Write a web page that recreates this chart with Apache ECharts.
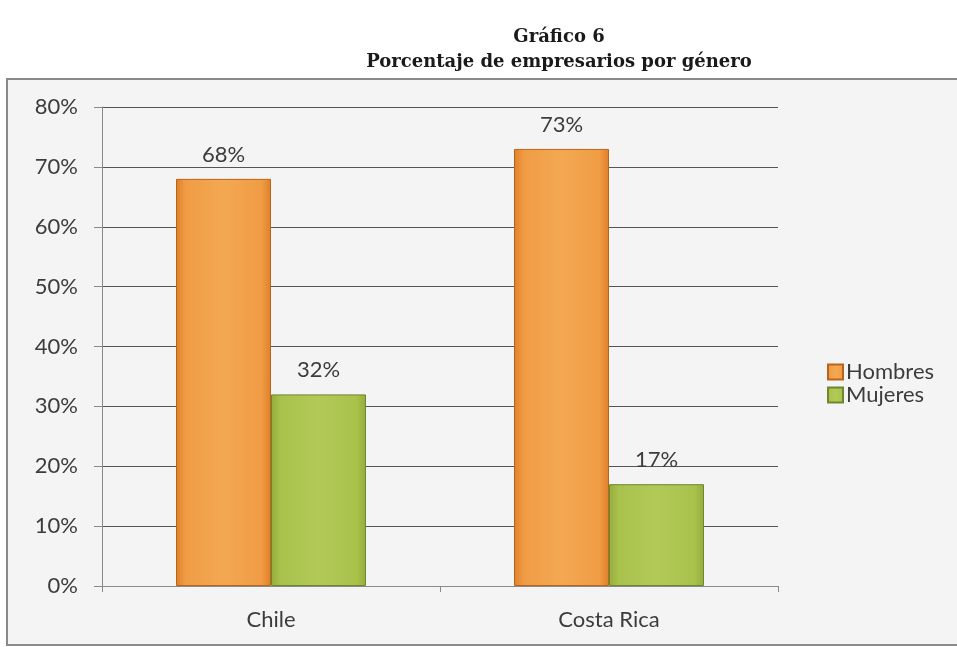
<!DOCTYPE html>
<html>
<head>
<meta charset="utf-8">
<script src="https://cdn.jsdelivr.net/npm/echarts@6/dist/echarts.min.js"></script>
<style>
  html, body { margin: 0; padding: 0; background: #ffffff; }
  #chart { width: 957px; height: 647px; }
</style>
</head>
<body>
<div id="chart"></div>
<script>
// Share of entrepreneurs by gender, per country
const countries = ['Chile', 'Costa Rica'];
const hombres = [68, 73];
const mujeres = [32, 17];
const yTicks = { min: 0, max: 80, interval: 10 };

const labelFont = 'Lato, "Open Sans", sans-serif';
const titleFont = '"DejaVu Serif", "Liberation Serif", serif';
const textColor = '#3c3c3c';

// Bars get a soft cylinder-like shading across their width
function barGradient(edge, mid, light) {
  return new echarts.graphic.LinearGradient(0, 0, 1, 0, [
    { offset: 0, color: edge },
    { offset: 0.1, color: mid },
    { offset: 0.5, color: light },
    { offset: 0.9, color: mid },
    { offset: 1, color: edge }
  ]);
}

const chart = echarts.init(document.getElementById('chart'), null, { renderer: 'canvas' });

chart.setOption({
  backgroundColor: '#ffffff',
  graphic: [
    {
      type: 'rect',
      z: -10,
      shape: { x: 7, y: 79, width: 952, height: 566 },
      style: { fill: '#f4f4f4', stroke: '#8a8a8a', lineWidth: 2 }
    }
  ],
  title: {
    text: 'Gráfico 6',
    subtext: 'Porcentaje de empresarios por género',
    left: 554,
    textAlign: 'center',
    top: 23,
    itemGap: 7,
    textStyle: { fontFamily: titleFont, fontWeight: 'bold', fontSize: 18, color: '#1a1a1a' },
    subtextStyle: { fontFamily: titleFont, fontWeight: 'bold', fontSize: 18, color: '#1a1a1a' }
  },
  legend: {
    orient: 'vertical',
    left: 822,
    top: 356,
    itemWidth: 15,
    itemHeight: 15,
    itemGap: 1,
    icon: 'rect',
    textStyle: { fontFamily: labelFont, fontSize: 22, lineHeight: 22, color: textColor, padding: [0, 0, 0, -2] },
    data: ['Hombres', 'Mujeres']
  },
  grid: { left: 102, right: 179, top: 107, bottom: 61, containLabel: false },
  xAxis: {
    type: 'category',
    data: countries,
    axisLine: { lineStyle: { color: '#8a8a8a', width: 1 } },
    axisTick: { show: true, length: 6, lineStyle: { color: '#8a8a8a' } },
    axisLabel: { fontFamily: labelFont, fontSize: 22, color: textColor, margin: 23 }
  },
  yAxis: {
    type: 'value',
    min: yTicks.min,
    max: yTicks.max,
    interval: yTicks.interval,
    axisLine: { show: true, lineStyle: { color: '#8a8a8a', width: 1 } },
    axisTick: { show: true, length: 8, lineStyle: { color: '#8a8a8a' } },
    axisLabel: { formatter: '{value}%', fontFamily: labelFont, fontSize: 22, color: textColor, margin: 24 },
    splitLine: { lineStyle: { color: '#555555', width: 1 } }
  },
  series: [
    {
      name: 'Hombres',
      type: 'bar',
      data: hombres,
      barWidth: 95,
      barGap: '0%',
      itemStyle: {
        color: barGradient('#e07f28', '#f09c45', '#f4a852'),
        borderColor: '#b4661e',
        borderWidth: 1
      },
      label: {
        show: true, position: 'top', distance: 13, formatter: '{c}%',
        fontFamily: labelFont, fontSize: 22, color: textColor
      }
    },
    {
      name: 'Mujeres',
      type: 'bar',
      data: mujeres,
      barWidth: 95,
      itemStyle: {
        color: barGradient('#94ad3c', '#a9c24c', '#b2c957'),
        borderColor: '#6f8530',
        borderWidth: 1
      },
      label: {
        show: true, position: 'top', distance: 13, formatter: '{c}%',
        fontFamily: labelFont, fontSize: 22, color: textColor
      }
    }
  ],
  color: ['#e88a30', '#9fb845']
});
</script>
</body>
</html>
